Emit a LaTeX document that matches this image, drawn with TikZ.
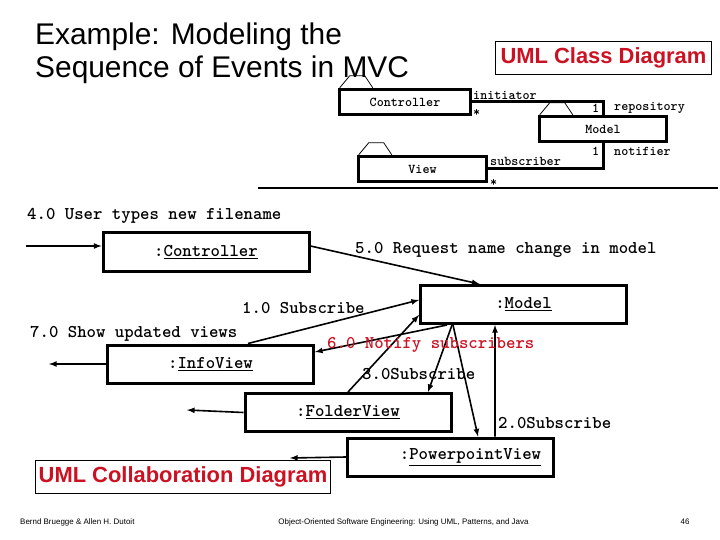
\documentclass[tikz,border=0pt]{standalone}
\usepackage{fontspec}
\setmainfont{Liberation Sans}
\definecolor{umlred}{RGB}{204,17,34}
\tikzset{
	clsbox/.style={draw, line width=3.5bp, minimum height=25bp, inner sep=0pt, font=\ttfamily\bfseries\fontsize{13.5}{13.5}\selectfont},
	clstab/.style={line width=0.8bp},
	assoc/.style={line width=3bp},
	clslabel/.style={anchor=west, inner sep=0pt, font=\ttfamily\bfseries\fontsize{13.5}{13.5}\selectfont},
	objbox/.style={draw, line width=3bp, minimum width=206bp, minimum height=38bp, font=\ttfamily\bfseries\fontsize{18}{18}\selectfont},
	msg/.style={line width=1.6bp, -latex},
	msglabel/.style={anchor=west, inner sep=0pt, font=\ttfamily\bfseries\fontsize{18}{18}\selectfont},
	diagname/.style={draw, line width=1bp, text=umlred, font=\bfseries\fontsize{22}{22}\selectfont},
	footer/.style={inner sep=0pt, font=\fontsize{8}{8}\selectfont}
}
\begin{document}
\begin{tikzpicture}[x=1bp,y=-1bp]
	\useasboundingbox[fill=white] (0,0) rectangle (720,540);
	\node[anchor=base west, inner sep=0pt, font=\fontsize{30}{30}\selectfont] (titletop) at (35,45) {Example: Modeling the};
	\node[anchor=base west, inner sep=0pt, font=\fontsize{30}{30}\selectfont] (titlebot) at (35,78) {Sequence of Events in MVC};
	\node[diagname, minimum width=216bp, minimum height=33bp] (clsdiag) at (603.5,58) {UML Class Diagram};
	\node[clsbox, minimum width=131bp] (ctrlcls) at (405,102) {Controller};
	\node[clsbox, minimum width=127bp] (modelcls) at (603,129) {Model};
	\node[clsbox, minimum width=128bp] (viewcls) at (422.5,169) {View};
	\draw[clstab] ([xshift=2bp]ctrlcls.north west) -- ++(10,-12) -- ++(15,0) -- ++(8,12);
	\draw[clstab] ([xshift=2bp]modelcls.north west) -- ++(10,-12) -- ++(15,0) -- ++(8,12);
	\draw[clstab] ([xshift=2bp]viewcls.north west) -- ++(10,-12) -- ++(15,0) -- ++(8,12);
	\draw[assoc] (ctrlcls.east) -| (modelcls.north);
	\draw[assoc] (viewcls.east) -| (modelcls.south);
	\node[clslabel] (initlbl) at (473,95) {initiator};
	\node[clslabel] (initmult) at (473,113) {*};
	\node[clslabel] (repomult) at (592,108) {1};
	\node[clslabel] (repolbl) at (614,108) {repository};
	\node[clslabel] (notimult) at (592,151) {1};
	\node[clslabel] (notilbl) at (614,151) {notifier};
	\node[clslabel] (sublbl) at (490,161) {subscriber};
	\node[clslabel] (submult) at (490,183) {*};
	\draw[line width=1.2bp] (258,188) -- (718,188);
	\node[objbox] (ctrlobj) at (206,252) {:\underline{Controller}};
	\node[objbox] (modelobj) at (523.5,304.5) {:\underline{Model}};
	\node[objbox] (infoobj) at (210.5,364) {:\underline{InfoView}};
	\node[objbox] (folderobj) at (348,412.5) {:\underline{FolderView}};
	\node[objbox] (pptobj) at (450.5,457) {\hspace*{40bp}:\underline{PowerpointView}};
	\coordinate (userin) at (26,246);
	\coordinate (infoout) at (49,364);
	\coordinate (folderout) at (187,410);
	\coordinate (pptout) at (290,458);
	\draw[msg] (userin) -- (userin -| ctrlobj.west);
	\draw[msg] (userin -| ctrlobj.east) -- ([xshift=-44bp]modelobj.north);
	\draw[msg] ([xshift=37.5bp]infoobj.north) -- ([yshift=4.5bp]modelobj.west);
	\draw[msg] ([xshift=-76.5bp]modelobj.south) -- ([yshift=12bp]infoobj.east);
	\draw[msg] (folderobj.north) -- ([yshift=-10.5bp]modelobj.west);
	\draw[msg] ([xshift=-71.5bp]modelobj.south) -- ([xshift=80bp]folderobj.north);
	\draw[msg] ([xshift=-70.5bp]modelobj.south) -- ([xshift=27.5bp]pptobj.north);
	\draw[msg] ([xshift=44.5bp]pptobj.north) -- ([xshift=-28.5bp]modelobj.south);
	\draw[msg] (infoobj.west) -- (infoout);
	\draw[msg] (folderobj.west) -- (folderout);
	\draw[msg] (pptobj.west) -- (pptout);
	\node[msglabel] (msgfour) at (27,216) {4.0 User types new filename};
	\node[msglabel] (msgfive) at (355,250) {5.0 Request name change in model};
	\node[msglabel] (msgone) at (242,308) {1.0 Subscribe};
	\node[msglabel] (msgseven) at (30,334) {7.0 Show updated views};
	\node[msglabel, text=umlred] (msgsix) at (327,345) {6.0 Notify subscribers};
	\node[msglabel] (msgthree) at (362,374) {3.0Subscribe};
	\node[msglabel] (msgtwo) at (498,423) {2.0Subscribe};
	\node[diagname, minimum width=293bp, minimum height=33bp] (colldiag) at (183,477) {UML Collaboration Diagram};
	\node[footer, anchor=west] (ftauthor) at (20,522) {Bernd Bruegge \& Allen H. Dutoit};
	\node[footer] (ftbook) at (403.5,522) {Object-Oriented Software Engineering: Using UML, Patterns, and Java};
	\node[footer] (ftpage) at (685,522) {46};
\end{tikzpicture}
\end{document}
